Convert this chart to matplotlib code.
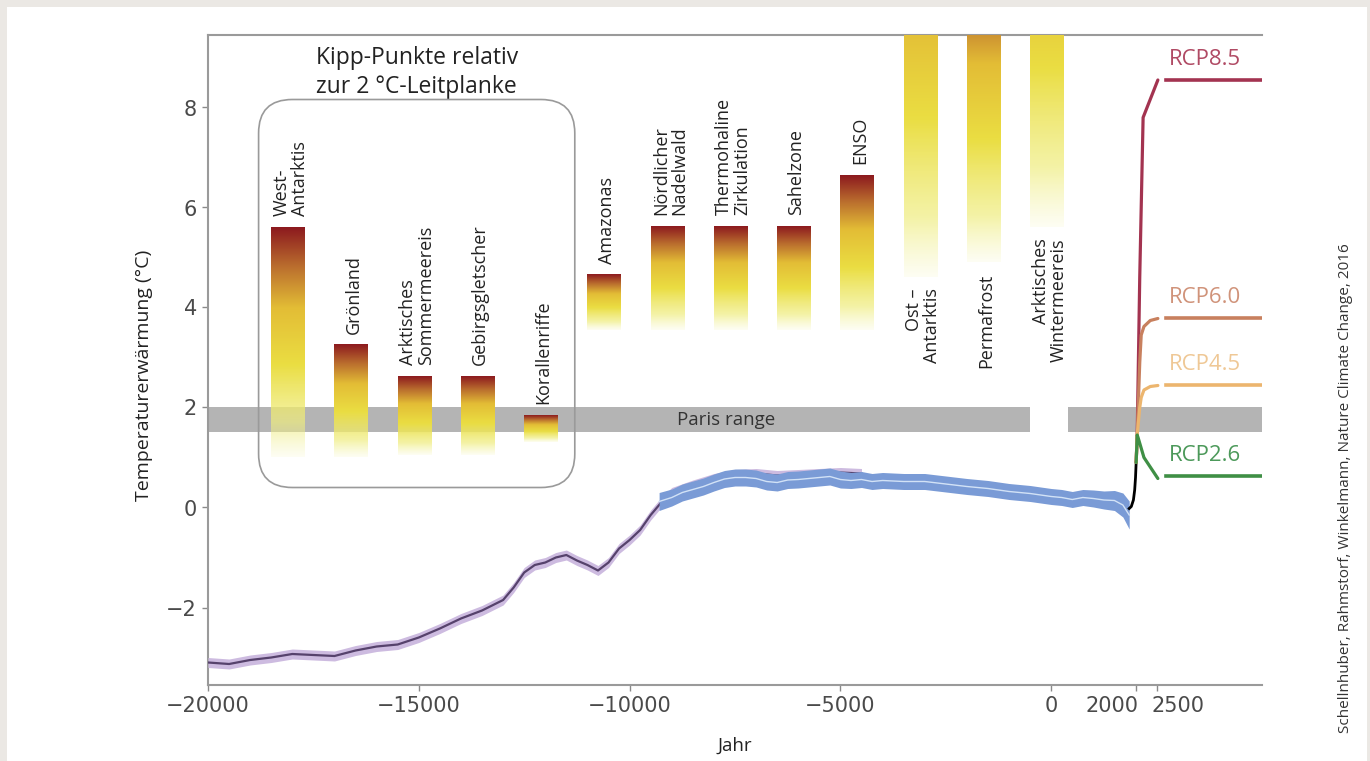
import numpy as np
import matplotlib
matplotlib.use("Agg")
import matplotlib.pyplot as plt
from matplotlib.colors import LinearSegmentedColormap
from matplotlib.patches import FancyBboxPatch, Rectangle
from matplotlib.transforms import ScaledTranslation

plt.rcParams['font.family'] = ['Open Sans', 'DejaVu Sans']

# tipping points: x position (year on axis), lower / upper threshold (deg C)
tip_labels = ["West-\nAntarktis", "Grönland", "Arktisches\nSommermeereis", "Gebirgsgletscher",
              "Korallenriffe", "Amazonas", "Nördlicher\nNadelwald", "Thermohaline\nZirkulation",
              "Sahelzone", "ENSO", "Ost –\nAntarktis", "Permafrost", "Arktisches\nWintermeereis"]
tip_x = [-18100, -16600, -15100, -13600, -12100, -10600, -9100, -7600, -6100, -4600, -3100, -1600, -100]
tip_low = [1.0, 1.0, 1.05, 1.05, 1.3, 3.55, 3.55, 3.55, 3.55, 3.55, 4.6, 4.9, 5.6]
tip_high = [5.6, 3.25, 2.62, 2.62, 1.84, 4.65, 5.63, 5.63, 5.63, 6.65, 12.5, 11.0, 13.5]

# Paris range band
paris_low, paris_high = 1.5, 2.0
paris_segments = [(-20000, -500), (400, 5000)]

# palaeo reconstruction (purple)
purple_year = [-20000, -19500, -19000, -18500, -18000, -17500, -17000, -16500, -16000, -15500,
               -15000, -14500, -14000, -13500, -13000, -12750, -12500, -12250, -12000, -11750,
               -11500, -11250, -11000, -10750, -10500, -10250, -10000, -9750, -9500, -9250,
               -9000, -8500, -8000, -7500, -7000, -6500, -6000, -5500, -5000, -4500]
purple_temp = [-3.10, -3.13, -3.05, -3.00, -2.93, -2.95, -2.97, -2.86, -2.78, -2.74,
               -2.60, -2.42, -2.22, -2.06, -1.85, -1.60, -1.30, -1.15, -1.10, -1.00,
               -0.95, -1.06, -1.15, -1.26, -1.10, -0.82, -0.65, -0.45, -0.15, 0.10,
               0.30, 0.45, 0.58, 0.66, 0.68, 0.64, 0.66, 0.68, 0.70, 0.68]

# Holocene reconstruction (blue)
blue_year = [-9300, -9000, -8750, -8500, -8250, -8000, -7750, -7500, -7250, -7000, -6750, -6500,
             -6250, -6000, -5750, -5500, -5250, -5000, -4750, -4500, -4250, -4000, -3500, -3000,
             -2500, -2000, -1500, -1000, -500, 0, 250, 500, 750, 1000, 1250, 1500, 1700, 1850]
blue_temp = [0.12, 0.20, 0.30, 0.36, 0.42, 0.50, 0.57, 0.60, 0.60, 0.58, 0.52, 0.50,
             0.55, 0.56, 0.58, 0.60, 0.62, 0.56, 0.54, 0.56, 0.52, 0.54, 0.52, 0.52,
             0.47, 0.42, 0.38, 0.32, 0.28, 0.22, 0.20, 0.16, 0.20, 0.18, 0.15, 0.14, 0.05, -0.15]
blue_err = [0.18, 0.17, 0.17, 0.17, 0.17, 0.17, 0.17, 0.17, 0.17, 0.17, 0.17, 0.17,
            0.17, 0.17, 0.17, 0.17, 0.17, 0.17, 0.16, 0.16, 0.16, 0.16, 0.16, 0.16,
            0.16, 0.16, 0.16, 0.16, 0.16, 0.16, 0.16, 0.16, 0.16, 0.17, 0.18, 0.2, 0.24, 0.28]

# instrumental
inst_year = [1850, 1900, 1950, 1980, 2000, 2015]
inst_temp = [-0.02, 0.02, 0.15, 0.35, 0.6, 0.9]

# RCP scenarios
rcp_names = ["RCP8.5", "RCP6.0", "RCP4.5", "RCP2.6"]
rcp_years = [
    [2015, 2040, 2100, 2180, 2530],
    [2015, 2040, 2100, 2135, 2200, 2350, 2530],
    [2015, 2040, 2100, 2135, 2200, 2350, 2530],
    [2015, 2040, 2060, 2200, 2530],
]
rcp_temps = [
    [0.9, 1.45, 4.6, 7.8, 8.55],
    [0.9, 1.45, 2.9, 3.45, 3.62, 3.74, 3.78],
    [0.9, 1.45, 2.0, 2.2, 2.35, 2.42, 2.44],
    [0.9, 1.45, 1.4, 1.0, 0.58],
]
rcp_longterm = [8.55, 3.78, 2.44, 0.62]
rcp_colors = ["#a33350", "#c8805e", "#ecb56e", "#3f8f45"]
rcp_text_colors = ["#b04a64", "#d0937a", "#efc896", "#4c995a"]

fig = plt.figure(figsize=(13.7, 7.61), dpi=100, facecolor="#ebe8e4")
fig.patches.append(Rectangle((7 / 1370, 0), 1360 / 1370, 1 - 7 / 761, transform=fig.transFigure,
                             facecolor="white", edgecolor="none", zorder=-10))
ax = fig.add_axes([208 / 1370, 1 - 685 / 761, 1054 / 1370, 650 / 761])
ax.set_facecolor("none")

# gradient for the tipping point bars (bottom -> top)
grad = LinearSegmentedColormap.from_list("tip", [
    (0.0, (0.95, 0.95, 0.62, 0.12)),
    (0.15, (0.94, 0.93, 0.50, 0.7)),
    (0.40, (0.92, 0.87, 0.26, 1.0)),
    (0.65, (0.89, 0.74, 0.21, 1.0)),
    (0.83, (0.73, 0.43, 0.18, 1.0)),
    (1.0, (0.55, 0.10, 0.12, 1.0)),
])
ramp = np.linspace(0, 1, 256).reshape(-1, 1)
bar_w = 800

for lab, x, lo, hi in zip(tip_labels, tip_x, tip_low, tip_high):
    ax.imshow(ramp, cmap=grad, origin="lower", aspect="auto", interpolation="bicubic",
              extent=(x - bar_w / 2, x + bar_w / 2, lo, hi), zorder=3)
    if hi < 9.4:
        ax.text(x + 60, hi + 0.22, lab, rotation=90, ha="center", va="bottom",
                multialignment="left", linespacing=1.0, fontsize=13, color="#222222", zorder=6)
    else:
        ax.text(x + 60, lo - 0.22, lab, rotation=90, ha="center", va="top",
                multialignment="right", linespacing=1.0, fontsize=13, color="#222222", zorder=6)

# Paris range
for a, b in paris_segments:
    ax.fill_between([a, b], paris_low, paris_high, color="#b4b4b4", lw=0, zorder=1)
ax.text(-7700, (paris_low + paris_high) / 2, "Paris range", ha="center", va="center",
        fontsize=13.5, color="#333333", zorder=2)

# rounded box around the first group
box = FancyBboxPatch((-18800, 0.4), 7500, 7.76,
                     boxstyle="round,pad=0,rounding_size=800", mutation_aspect=0.00084,
                     facecolor="none", edgecolor="#9a9a9a", lw=1.2, zorder=4)
ax.add_patch(box)
ax.text(-15050, 8.7, "Kipp-Punkte relativ\nzur 2 °C-Leitplanke", ha="center", va="center",
        fontsize=16.5, color="#222222", linespacing=1.3)

# reconstructions
py = np.array(purple_year)
pt = np.array(purple_temp)
ax.fill_between(py, pt - 0.1, pt + 0.1, color="#cdbbe0", lw=0, zorder=5)
ax.plot(py, pt, color="#56426c", lw=1.6, zorder=5)

by = np.array(blue_year)
bt = np.array(blue_temp)
be = np.array(blue_err)
ax.fill_between(by, bt - be, bt + be, color="#7a9bd6", lw=0, zorder=6)
ax.plot(by, bt, color="#d2e2f6", lw=1.0, zorder=6)

ax.plot(inst_year, inst_temp, color="black", lw=2, zorder=7)

# RCP scenarios, drawn high to low so lower ones lie on top
for name, yrs, tmp, lt, c, tc in zip(rcp_names, rcp_years, rcp_temps, rcp_longterm,
                                     rcp_colors, rcp_text_colors):
    ax.plot(yrs, tmp, color=c, lw=2.3, zorder=8, solid_capstyle="round")
    ax.plot([2730, 5000], [lt, lt], color=c, lw=2.6, zorder=8)
    ax.text(2800, lt + 0.2, name, ha="left", va="bottom", fontsize=16, color=tc)

ax.set_xlim(-20000, 5000)
ax.set_ylim(-3.55, 9.45)
ax.set_xticks([-20000, -15000, -10000, -5000, 0, 2000, 2500])
ax.set_xticklabels(["\u221220000", "\u221215000", "\u221210000", "\u22125000", "0", "2000", "2500"])
ax.set_yticks([-2, 0, 2, 4, 6, 8])
ax.set_yticklabels(["\u22122", "0", "2", "4", "6", "8"])
ax.tick_params(direction="out", length=4, width=1, color="#8a8a8a", labelsize=15,
               labelcolor="#4a4a4a", pad=4)
for t in ax.get_xticklabels() + ax.get_yticklabels():
    t.set_fontfamily("DejaVu Sans")

# squeeze the 2000 / 2500 labels apart
for t in ax.get_xticklabels():
    if t.get_text() == "2000":
        t.set_ha("right")
        t.set_transform(t.get_transform() + ScaledTranslation(3 / 100, 0, fig.dpi_scale_trans))
    elif t.get_text() == "2500":
        t.set_ha("left")
        t.set_transform(t.get_transform() + ScaledTranslation(-5 / 100, 0, fig.dpi_scale_trans))

for s in ["left", "bottom", "top"]:
    ax.spines[s].set_color("#9a9a9a")
    ax.spines[s].set_linewidth(1.5)
ax.spines["right"].set_visible(False)

ax.set_ylabel("Temperaturerwärmung (°C)", fontsize=14, color="#222222")
ax.yaxis.set_label_coords(-0.052, 0.477)
ax.set_xlabel("Jahr", fontsize=13.5, color="#222222")
ax.xaxis.set_label_coords(0.5, -0.08)

fig.text(0.9818, 0.359, "Schellnhuber, Rahmstorf, Winkelmann, Nature Climate Change, 2016",
         rotation=90, ha="center", va="center", fontsize=11, color="#333333")

fig.savefig("out.png", dpi=100, facecolor=fig.get_facecolor())
